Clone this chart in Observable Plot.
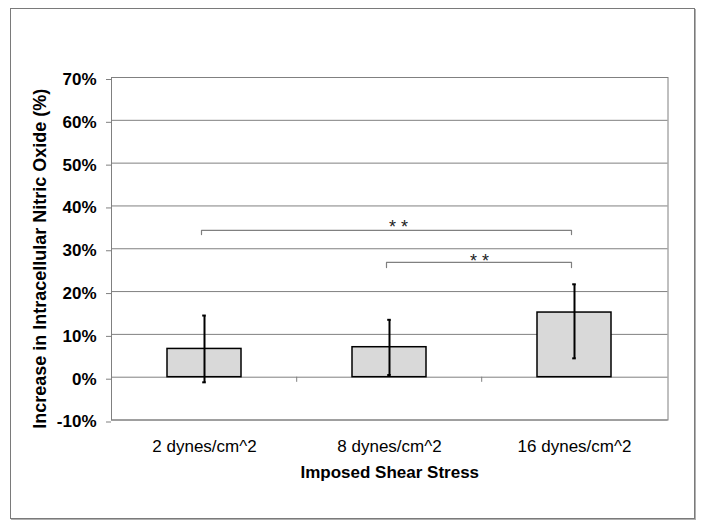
<!DOCTYPE html>
<html>
<head>
<meta charset="utf-8">
<script src="https://cdn.jsdelivr.net/npm/d3@7"></script>
<script src="https://cdn.jsdelivr.net/npm/@observablehq/plot@0.6"></script>
<style>
  body { margin: 0; background: white; }
  #wrap { position: relative; width: 704px; height: 529px; }
  #border { position: absolute; left: 10px; top: 8px; width: 683px; height: 509px;
            border: 1px solid #7a7a7a; box-shadow: 1px 1px 0 #b0b0b0; pointer-events: none; }
</style>
</head>
<body>
<div id="wrap"><div id="chart"></div><div id="border"></div></div>
<script>
// ---- data ----
const categories = ["2 dynes/cm^2", "8 dynes/cm^2", "16 dynes/cm^2"];
const means = [6.6, 7.0, 15.1];          // % increase
const errHigh = [14.4, 13.4, 21.7];      // top of error bar (%)
const errLow = [-1.2, 0.5, 4.4];         // bottom of error bar (%)
const yTicks = [-10, 0, 10, 20, 30, 40, 50, 60, 70];
const yLabel = "Increase in Intracellular Nitric Oxide (%)";
const xLabel = "Imposed Shear Stress";
// significance brackets: from category, to category, bar level, tick end, star level
const bracketFrom = ["2 dynes/cm^2", "8 dynes/cm^2"];
const bracketTo = ["16 dynes/cm^2", "16 dynes/cm^2"];
const bracketY = [34.3, 26.8];
const bracketTickY = [33.3, 25.6];
const starY = [36.3, 28.2];
const starText = ["* *", "* *"];

const bars = categories.map((c, i) => ({cat: c, mean: means[i], hi: errHigh[i], lo: errLow[i]}));
const bracketPts = [];
bracketFrom.forEach((f, i) => {
  bracketPts.push({b: i, x: f, y: bracketTickY[i]});
  bracketPts.push({b: i, x: f, y: bracketY[i]});
  bracketPts.push({b: i, x: bracketTo[i], y: bracketY[i]});
  bracketPts.push({b: i, x: bracketTo[i], y: bracketTickY[i]});
});

const gray = "#808080";
const font = "'Liberation Sans', Arial, sans-serif";

const chart = Plot.plot({
  width: 704,
  height: 529,
  marginLeft: 111,
  marginRight: 36.5,
  marginTop: 77,
  marginBottom: 109.5,
  style: {fontFamily: font, background: "transparent"},
  x: {domain: categories, paddingInner: 0.6, paddingOuter: 0.3, axis: null},
  y: {domain: [-10, 70], axis: null},
  marks: [
    Plot.gridY(yTicks, {stroke: gray, strokeOpacity: 1, strokeWidth: 1}),
    Plot.frame({stroke: gray, strokeWidth: 1}),
    Plot.ruleX(categories.slice(1), {x: d => d, y1: 0, y2: -1.2, dx: -92.8, stroke: gray}),
    Plot.axisY(yTicks, {
      tickSize: 5, tickPadding: 10, tickFormat: d => d + "%",
      fontSize: 17, fontWeight: "bold", fill: "black", stroke: gray, dy: 2, label: null
    }),
    Plot.axisX(categories, {
      tickSize: 0, tickPadding: 20, fontSize: 17, fill: "black", label: null
    }),
    Plot.barY(bars, {x: "cat", y: "mean", fill: "#d9d9d9", stroke: "black", strokeWidth: 1.5}),
    Plot.link(bars, {x1: "cat", x2: "cat", y1: "lo", y2: "hi", stroke: "black", strokeWidth: 2}),
    Plot.tickY(bars, {x: "cat", y: "hi", stroke: "black", strokeWidth: 2, insetLeft: 35.2, insetRight: 35.2}),
    Plot.tickY(bars, {x: "cat", y: "lo", stroke: "black", strokeWidth: 2, insetLeft: 35.2, insetRight: 35.2}),
    Plot.line(bracketPts, {x: "x", y: "y", z: "b", stroke: gray, strokeWidth: 1.2, dx: -3, curve: "linear"}),
    Plot.text([0], {x: () => bracketFrom[1], y: () => starY[0], text: () => starText[0], dx: 9, dy: 5, fontSize: 18, fill: "#222"}),
    Plot.text([0], {x: () => bracketFrom[1], y: () => starY[1], text: () => starText[1], dx: 90, dy: 5, fontSize: 18, fill: "#222"}),
    Plot.text([xLabel], {frameAnchor: "bottom", dy: 58, fontSize: 17, fontWeight: "bold", fill: "black"}),
    Plot.text([yLabel], {frameAnchor: "left", textAnchor: "middle", rotate: -90, dx: -71, dy: 10, fontSize: 18, fontWeight: "bold", fill: "black"})
  ]
});
document.getElementById("chart").appendChild(chart);
</script>
</body>
</html>
